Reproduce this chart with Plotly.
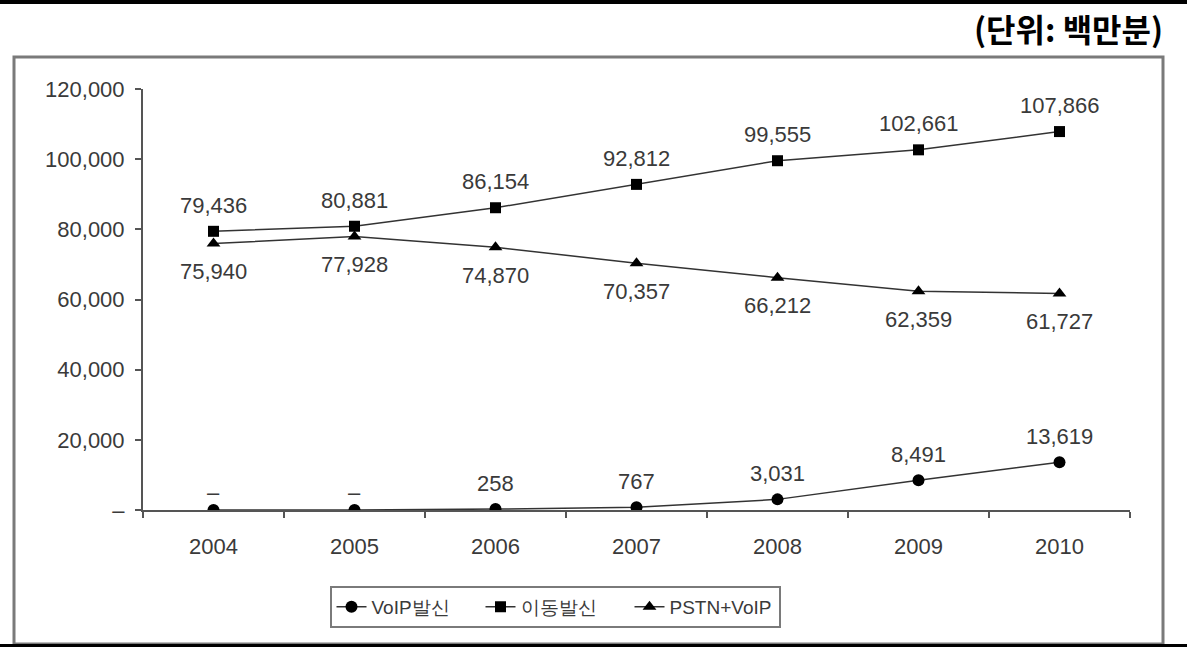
import plotly.graph_objects as go

# ---- data ----
years = ["2004", "2005", "2006", "2007", "2008", "2009", "2010"]
voip = [0, 0, 258, 767, 3031, 8491, 13619]
voip_labels = ["–", "–", "258", "767", "3,031", "8,491", "13,619"]
mobile = [79436, 80881, 86154, 92812, 99555, 102661, 107866]
pstn = [75940, 77928, 74870, 70357, 66212, 62359, 61727]
series_names = ["VoIP발신", "이동발신", "PSTN+VoIP"]
y_ticks = [0, 20000, 40000, 60000, 80000, 100000, 120000]
y_ticktext = ["–", "20,000", "40,000", "60,000", "80,000", "100,000", "120,000"]
unit_text = "(단위: 백만분)"

# ---- page geometry ----
W, H = 1187, 647
ML, MR, MT, MB = 143, 57, 89, 137
PW, PH = W - ML - MR, H - MT - MB


def px(x):
    return (x - ML) / PW


def py(y):
    return (H - MB - y) / PH


FONT = "Liberation Sans, Arial, sans-serif"
TXT = "#3a3a3a"
LINE = "#333333"

fig = go.Figure()

fig.add_trace(go.Scatter(
    x=years, y=voip, name=series_names[0], mode="lines+markers",
    line=dict(color=LINE, width=1.5),
    marker=dict(symbol="circle", size=12, color="black"),
))
fig.add_trace(go.Scatter(
    x=years, y=mobile, name=series_names[1], mode="lines+markers",
    line=dict(color=LINE, width=1.5),
    marker=dict(symbol="square", size=11, color="black"),
))
fig.add_trace(go.Scatter(
    x=years, y=pstn, name=series_names[2], mode="lines+markers",
    line=dict(color=LINE, width=1.5),
    marker=dict(symbol="triangle-up", size=12, color="black"),
))

# value labels (annotations on a category axis take the category index)
label_font = dict(size=22, color=TXT, family=FONT)
annotations = []
for i, (yv, t) in enumerate(zip(voip, voip_labels)):
    shift = 18 if t == "–" else 26
    annotations.append(dict(x=i, y=yv, text=t, showarrow=False, yshift=shift, font=label_font))
for i, yv in enumerate(mobile):
    annotations.append(dict(x=i, y=yv, text=f"{yv:,}", showarrow=False, yshift=26, font=label_font))
for i, yv in enumerate(pstn):
    annotations.append(dict(x=i, y=yv, text=f"{yv:,}", showarrow=False, yshift=-28, font=label_font))

# unit caption
annotations.append(dict(
    xref="paper", yref="paper", x=px(1165), y=py(28), xanchor="right", yanchor="middle",
    text=f"<b>{unit_text}</b>", showarrow=False,
    font=dict(size=32, color="black", family="Noto Sans CJK KR"),
))

shapes = [
    # rule across the top of the page
    dict(type="rect", xref="paper", yref="paper", x0=px(0), x1=px(W), y0=py(4), y1=py(0),
         fillcolor="black", line=dict(width=0), layer="below"),
    # outer frame
    dict(type="rect", xref="paper", yref="paper", x0=px(14), x1=px(1163), y0=py(644), y1=py(57),
         fillcolor="rgba(0,0,0,0)", line=dict(color="#7a7a7a", width=3), layer="below"),
    # rule across the bottom of the page
    dict(type="rect", xref="paper", yref="paper", x0=px(0), x1=px(W), y0=py(H), y1=py(644),
         fillcolor="black", line=dict(width=0), layer="below"),
]

fig.update_layout(
    width=W, height=H,
    margin=dict(l=ML, r=MR, t=MT, b=MB, pad=0),
    paper_bgcolor="white", plot_bgcolor="white",
    font=dict(family=FONT, color=TXT),
    showlegend=True,
    legend=dict(
        orientation="h", x=px(555), xanchor="center", y=py(586), yanchor="top",
        bordercolor="#7a7a7a", borderwidth=2, bgcolor="white",
        font=dict(size=19, color=TXT, family=FONT),
        entrywidth=104, entrywidthmode="pixels", itemwidth=30,
    ),
    annotations=annotations,
    shapes=shapes,
)

fig.update_xaxes(
    type="category", range=[-0.5, 6.5],
    showline=True, linecolor="#555555", linewidth=2,
    ticks="outside", tickson="boundaries", ticklen=6, tickcolor="#555555", tickwidth=1.5,
    tickfont=dict(size=22, color=TXT, family=FONT), ticklabelstandoff=16,
    showgrid=False, zeroline=False,
)
fig.update_yaxes(
    range=[0, 120000], tickvals=y_ticks, ticktext=y_ticktext,
    showline=True, linecolor="#555555", linewidth=2,
    ticks="outside", ticklen=6, tickcolor="#555555", tickwidth=1.5,
    tickfont=dict(size=22, color=TXT, family=FONT), ticklabelstandoff=6,
    showgrid=False, zeroline=False,
)

fig.write_html("out.html")
